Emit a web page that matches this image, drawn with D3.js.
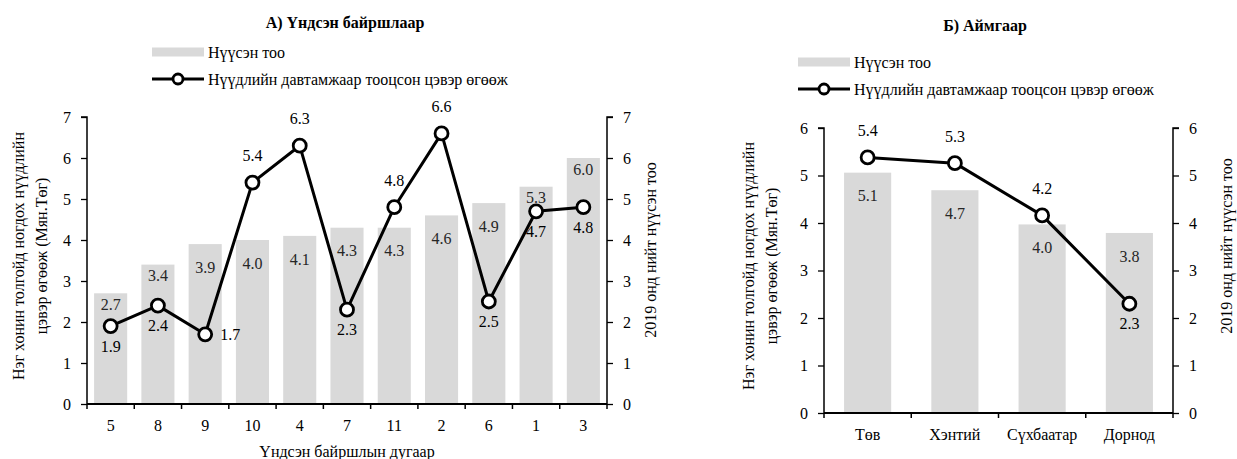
<!DOCTYPE html>
<html>
<head>
<meta charset="utf-8">
<script src="https://cdn.jsdelivr.net/npm/d3@7"></script>
<style>
  html, body { margin: 0; padding: 0; background: #fff; }
  svg { display: block; }
</style>
</head>
<body>
<svg id="chart" width="1237" height="459"></svg>
<script>
// ---- Data: chart A (by base location) ----
const catsA = ["5", "8", "9", "10", "4", "7", "11", "2", "6", "1", "3"];
const countsA = [2.7, 3.4, 3.9, 4.0, 4.1, 4.3, 4.3, 4.6, 4.9, 5.3, 6.0];
const returnsA = [1.9, 2.4, 1.7, 5.4, 6.3, 2.3, 4.8, 6.6, 2.5, 4.7, 4.8];
const labelSideA = ["below", "below", "right", "above", "above", "below", "above", "above", "below", "below", "below"];
const ticksA = [0, 1, 2, 3, 4, 5, 6, 7];

// ---- Data: chart B (by province) ----
const catsB = ["Төв", "Хэнтий", "Сүхбаатар", "Дорнод"];
const countsB = [5.06, 4.69, 3.97, 3.79];
const returnsB = [5.38, 5.26, 4.16, 2.30];
const labelSideB = ["above", "above", "above", "below"];
const ticksB = [0, 1, 2, 3, 4, 5, 6];

const titleA = "А) Үндсэн байршлаар";
const titleB = "Б) Аймгаар";
const legendBar = "Нүүсэн тоо";
const legendLine = "Нүүдлийн давтамжаар тооцсон цэвэр өгөөж";
const yTitleLeft = ["Нэг хонин толгойд ногдох нүүдлийн", "цэвэр өгөөж (Мян.Төг)"];
const yTitleRight = "2019 онд нийт нүүсэн тоо";
const xTitleA = "Үндсэн байршлын дугаар";

const svg = d3.select("#chart");
const FS = "16px";
const FONT = "'Liberation Serif', 'Times New Roman', serif";
const BAR = "#d9d9d9";

function T(sel) { return sel.style("font-family", FONT).style("font-size", FS).style("fill", "#000"); }

function drawPanel(cfg) {
  const g = svg.append("g");
  const x = d3.scaleBand().domain(cfg.cats).range([cfg.x0, cfg.x1]).paddingInner(0).paddingOuter(0);
  const y = d3.scaleLinear().domain([0, cfg.ymax]).range([cfg.yb, cfg.yt]);
  const bw = x.bandwidth() * cfg.barFrac;

  g.selectAll("rect.bar").data(cfg.cats).join("rect")
    .attr("x", d => x(d) + (x.bandwidth() - bw) / 2)
    .attr("width", bw)
    .attr("y", (d, i) => y(cfg.counts[i]))
    .attr("height", (d, i) => y(0) - y(cfg.counts[i]))
    .attr("fill", BAR);

  const ax = g.append("g").attr("transform", `translate(${cfg.x0},0)`)
    .call(d3.axisLeft(y).tickValues(cfg.ticks).tickFormat(d3.format("d")).tickSize(6).tickPadding(10));
  const ax2 = g.append("g").attr("transform", `translate(${cfg.x1},0)`)
    .call(d3.axisRight(y).tickValues(cfg.ticks).tickFormat(d3.format("d")).tickSize(6).tickPadding(10));
  [ax, ax2].forEach(a => {
    a.select(".domain").attr("d", `M${a === ax ? -6 : 6},${cfg.yt}H0V${cfg.yb}`).attr("stroke", "#000").attr("stroke-width", 1.5);
    a.selectAll(".tick line").attr("stroke", "#000").attr("stroke-width", 1.3);
    T(a.selectAll(".tick text"));
  });

  const boundaries = cfg.cats.map(c => x(c)).concat([cfg.x1]);
  g.append("line").attr("x1", cfg.x0).attr("x2", cfg.x1).attr("y1", cfg.yb).attr("y2", cfg.yb)
    .attr("stroke", "#000").attr("stroke-width", 2.2);
  g.selectAll("line.xt").data(boundaries).join("line")
    .attr("x1", d => d).attr("x2", d => d).attr("y1", cfg.yb).attr("y2", cfg.yb + 5)
    .attr("stroke", "#000").attr("stroke-width", 1.5);
  T(g.selectAll("text.xl").data(cfg.cats).join("text"))
    .attr("x", d => x(d) + x.bandwidth() / 2).attr("y", cfg.yb + 21).attr("dy", "0.35em")
    .attr("text-anchor", "middle").text(d => d);

  T(g.selectAll("text.bl").data(cfg.cats).join("text"))
    .attr("x", d => x(d) + x.bandwidth() / 2)
    .attr("y", (d, i) => {
      const top = y(cfg.counts[i]);
      const pt = y(cfg.returns[i]);
      const diff = pt - top;
      return top + ((diff > 0 && diff < 52) ? 11 : 23);
    })
    .attr("dy", "0.35em").attr("text-anchor", "middle")
    .style("fill", "#262626")
    .text((d, i) => d3.format(".1f")(cfg.counts[i]));

  const line = d3.line().x((d, i) => x(cfg.cats[i]) + x.bandwidth() / 2).y(d => y(d));
  g.append("path").datum(cfg.returns).attr("d", line)
    .attr("fill", "none").attr("stroke", "#000").attr("stroke-width", 3).attr("stroke-linejoin", "round");
  g.selectAll("circle.pt").data(cfg.returns).join("circle")
    .attr("cx", (d, i) => x(cfg.cats[i]) + x.bandwidth() / 2).attr("cy", d => y(d))
    .attr("r", 6.5).attr("fill", "#fff").attr("stroke", "#000").attr("stroke-width", 2.8);

  T(g.selectAll("text.ll").data(cfg.returns).join("text"))
    .attr("x", (d, i) => x(cfg.cats[i]) + x.bandwidth() / 2 + (cfg.sides[i] === "right" ? 25 : 0))
    .attr("y", (d, i) => y(d) + (cfg.sides[i] === "above" ? -27 : cfg.sides[i] === "below" ? 20 : 0))
    .attr("dy", "0.35em").attr("text-anchor", "middle")
    .text(d => d3.format(".1f")(d));

  T(g.append("text")).attr("x", cfg.titleX).attr("y", cfg.titleY).attr("text-anchor", "middle")
    .style("font-weight", "bold").text(cfg.title);

  const lg = g.append("g");
  lg.append("rect").attr("x", cfg.legX).attr("y", cfg.legY1 - 4.5).attr("width", 52).attr("height", 9).attr("fill", BAR);
  T(lg.append("text")).attr("x", cfg.legX + 56).attr("y", cfg.legY1).attr("dy", "0.35em").text(legendBar);
  lg.append("line").attr("x1", cfg.legX).attr("x2", cfg.legX + 52).attr("y1", cfg.legY2).attr("y2", cfg.legY2)
    .attr("stroke", "#000").attr("stroke-width", 3);
  lg.append("circle").attr("cx", cfg.legX + 26).attr("cy", cfg.legY2).attr("r", 5).attr("fill", "#fff")
    .attr("stroke", "#000").attr("stroke-width", 2.8);
  T(lg.append("text")).attr("x", cfg.legX + 56).attr("y", cfg.legY2).attr("dy", "0.35em").text(legendLine);

  yTitleLeft.forEach((t, k) => {
    T(g.append("text"))
      .attr("transform", `translate(${cfg.ylX[k]},${cfg.ylY}) rotate(-90)`)
      .attr("text-anchor", "middle").attr("dy", "0.35em").text(t);
  });
  T(g.append("text"))
    .attr("transform", `translate(${cfg.yrX},${cfg.yrY}) rotate(-90)`)
    .attr("text-anchor", "middle").attr("dy", "0.35em").text(yTitleRight);

  if (cfg.xTitle) {
    T(g.append("text")).attr("x", (cfg.x0 + cfg.x1) / 2).attr("y", cfg.yb + 47).attr("dy", "0.35em")
      .attr("text-anchor", "middle").text(cfg.xTitle);
  }
}

drawPanel({
  cats: catsA, counts: countsA, returns: returnsA, sides: labelSideA, ticks: ticksA, ymax: 7,
  x0: 87, x1: 607, yt: 117, yb: 404, barFrac: 0.7,
  title: titleA, titleX: 345, titleY: 28,
  legX: 152, legY1: 52, legY2: 79,
  ylX: [18, 41], ylY: 256, yrX: 650, yrY: 250,
  xTitle: xTitleA
});

drawPanel({
  cats: catsB, counts: countsB, returns: returnsB, sides: labelSideB, ticks: ticksB, ymax: 6,
  x0: 824, x1: 1173, yt: 128, yb: 413, barFrac: 0.54,
  title: titleB, titleX: 985, titleY: 31,
  legX: 798, legY1: 62, legY2: 89,
  ylX: [748, 771], ylY: 266, yrX: 1226, yrY: 246,
  xTitle: null
});
</script>
</body>
</html>
